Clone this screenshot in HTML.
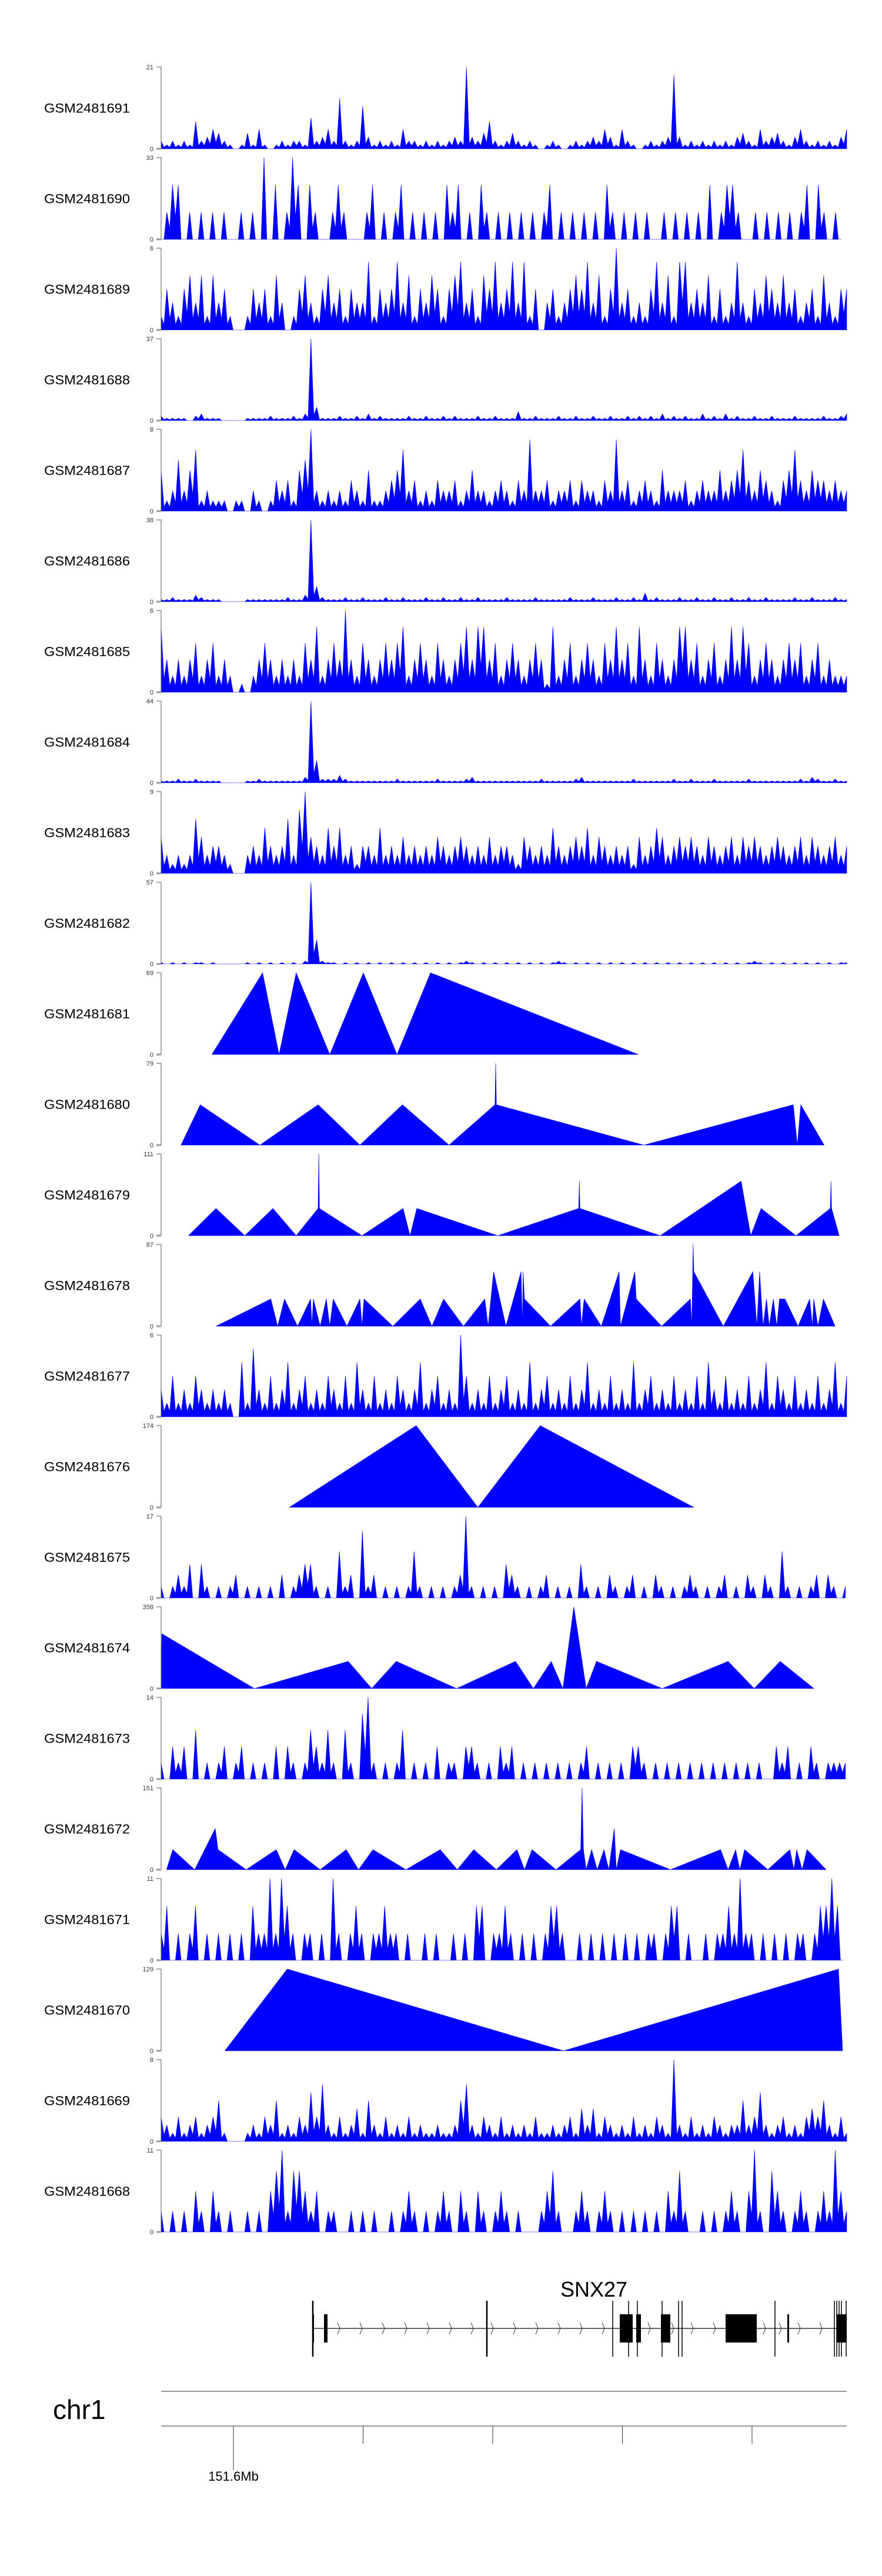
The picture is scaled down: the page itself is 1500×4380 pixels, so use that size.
<!DOCTYPE html>
<html><head><meta charset="utf-8">
<style>
html,body{margin:0;padding:0;background:#fff;}
svg{display:block;}
text{font-family:"Liberation Sans",Arial,sans-serif;}
</style></head>
<body>
<svg id="chart" width="1500" height="4380" viewBox="0 0 1500 4380" xmlns="http://www.w3.org/2000/svg"></svg>
<script>
const trackNames = ["GSM2481691","GSM2481690","GSM2481689","GSM2481688","GSM2481687","GSM2481686","GSM2481685","GSM2481684","GSM2481683","GSM2481682","GSM2481681","GSM2481680","GSM2481679","GSM2481678","GSM2481677","GSM2481676","GSM2481675","GSM2481674","GSM2481673","GSM2481672","GSM2481671","GSM2481670","GSM2481669","GSM2481668"];
const trackMax = [21,33,6,37,8,38,6,44,9,57,69,79,111,87,6,174,17,358,14,151,11,129,8,11];

const v691 = [2,1,2,1,2,1,7,2,3,5, 4,2,1,0,1,4,1,5,1,0, 1,2,1,2,2,1,8,2,3,5, 2,13,2,1,2,11,3,1,2,1, 2,1,5,2,2,1,2,1,2,1, 2,3,2,21,3,2,4,7,2,1, 2,4,2,1,2,1,0,1,2,1, 0,1,2,1,2,3,2,5,3,1, 5,2,1,0,1,2,1,2,3,19, 3,1,2,1,2,1,2,1,2,1, 3,4,2,1,5,2,3,4,2,1, 3,5,2,1,2,1,2,1,3,5];
const v690 = [0,11,22,22,0,11,0,11,0,11, 0,11,0,0,11,0,11,0,33,0, 22,0,11,33,22,0,22,11,0,0, 11,22,11,0,0,0,11,22,0,11, 0,11,22,0,11,0,11,0,11,0, 22,11,22,0,11,0,22,11,0,11, 0,11,0,11,0,11,0,11,22,0, 11,0,11,0,11,0,11,0,22,11, 0,11,0,11,0,11,0,0,11,0, 11,0,11,0,11,0,22,0,11,22, 22,11,0,0,11,0,11,0,11,0, 11,0,11,22,0,22,11,0,11,0];
const v689 = [1,3,2,1,3,4,2,4,1,4, 2,3,1,0,0,1,3,2,3,1, 4,2,0,1,3,4,2,1,3,4, 2,3,1,3,2,2,5,1,3,2, 3,5,2,4,1,3,2,4,3,1, 3,4,5,2,3,1,4,3,5,2, 3,5,2,5,1,3,0,2,3,1, 2,3,4,3,5,2,4,1,3,6, 2,3,1,2,1,3,5,2,4,1, 5,5,2,3,2,4,1,3,1,2, 5,2,1,3,2,4,3,2,4,2, 3,1,2,3,1,4,2,1,3,3];
const v688 = [2,1,1,1,1,0,2,3,1,1, 1,0,0,0,0,1,1,1,1,2, 1,1,1,2,1,3,37,6,1,1, 1,2,1,1,2,1,3,1,2,1, 1,1,1,2,1,1,2,1,1,2, 1,2,1,1,1,2,1,1,2,1, 1,1,4,1,1,2,1,1,1,2, 1,1,2,1,1,2,1,1,2,1, 1,2,1,2,1,2,1,3,1,2, 1,2,1,1,3,1,2,1,3,1, 2,1,1,2,1,1,2,1,1,1, 2,1,1,1,1,2,1,1,2,3];
const v687 = [4,1,2,5,2,4,6,1,2,1, 1,1,0,1,1,0,2,1,0,1, 3,2,3,1,4,5,8,2,1,2, 1,2,1,3,2,1,4,1,1,2, 3,4,6,2,3,1,2,1,3,2, 2,3,1,2,4,2,2,1,2,3, 2,1,3,2,7,2,2,3,1,2, 2,3,1,3,2,2,1,3,2,7, 2,3,1,2,3,2,1,4,2,2, 2,3,1,2,3,2,2,4,2,3, 4,6,3,2,4,3,2,1,3,4, 6,3,2,4,3,3,2,3,2,2];
const v686 = [1,1,2,1,1,1,3,2,1,1, 1,0,0,0,0,1,1,1,1,1, 1,1,2,1,1,3,38,7,2,1, 1,1,2,1,1,2,1,1,1,2, 1,1,2,1,1,1,2,1,1,2, 1,1,2,1,1,2,1,1,1,1, 2,1,1,1,1,2,1,1,1,1, 1,2,1,1,1,2,1,1,1,2, 1,1,2,1,4,1,2,1,1,1, 2,1,1,2,1,1,2,1,1,2, 1,1,2,1,1,2,1,1,1,1, 2,1,1,2,1,1,1,2,1,1];
const v685 = [4.8,2.4,1.2,2.4,1.2,2.4,3.6,1.2,2.4,3.6, 1.2,2.4,1.2,0,0.6,0,1.2,2.4,3.6,2.4, 1.2,2.4,1.2,2.4,1.2,3.6,2.4,4.8,1.2,2.4, 3.6,2.4,6,2.4,1.2,3.6,2.4,1.2,2.4,3.6, 2.4,3.6,4.8,1.2,2.4,3.6,2.4,1.2,3.6,2.4, 1.2,2.4,3.6,4.8,2.4,4.8,4.8,2.4,3.6,1.2, 2.4,3.6,2.4,1.2,2.4,3.6,2.4,0.6,4.8,1.2, 2.4,3.6,1.2,2.4,3.6,2.4,1.2,3.6,2.4,4.8, 2.4,3.6,1.2,4.8,2.4,1.2,3.6,2.4,1.2,2.4, 4.8,4.8,2.4,3.6,1.2,2.4,3.6,1.2,2.4,4.8, 2.4,4.8,3.6,1.2,2.4,3.6,2.4,1.2,2.4,3.6, 2.4,3.6,1.2,2.4,3.6,1.2,2.4,1.2,1.2,1.2];
const v684 = [1,1,1,2,1,1,2,1,1,1, 1,0,0,0,0,1,1,2,1,1, 1,1,1,1,1,3,44,12,2,2, 2,4,2,1,1,1,1,1,1,1, 1,2,1,1,1,1,1,1,2,1, 1,1,1,2,3,1,1,1,1,1, 1,1,1,1,1,1,2,1,1,1, 1,1,2,3,1,1,1,1,1,1, 1,1,2,1,1,1,1,1,1,2, 1,1,2,1,1,1,2,1,1,1, 1,1,2,1,1,1,1,1,1,1, 1,2,1,3,2,1,1,2,1,1];
const v683 = [4,2,1,2,1,2,6,4,2,3, 3,2,1,0,0,2,3,2,5,3, 2,3,6,2,7,9,4,3,2,5, 3,5,2,3,1,3,3,2,5,2, 3,2,4,2,3,2,3,2,4,3, 2,3,4,3,2,3,2,4,2,3, 3,2,1,4,3,2,3,2,5,3, 2,3,4,3,5,2,4,3,2,3, 2,3,1,4,2,3,5,4,2,3, 4,3,4,3,2,4,3,2,3,4, 2,4,3,4,3,2,3,4,3,2, 3,4,2,4,3,2,3,4,2,3];
const v682 = [1,0,1,0,1,0,1,1,0,1, 0,0,0,0,0,1,0,1,0,1, 0,1,0,1,0,2,57,17,2,1, 1,0,1,0,1,0,1,0,1,0, 1,0,1,0,1,0,1,0,1,0, 1,0,1,2,1,0,1,0,1,0, 1,0,1,0,1,0,1,0,1,2, 1,0,1,0,1,0,1,0,1,0, 1,0,1,0,1,0,1,0,1,0, 1,0,1,0,1,0,1,0,1,0, 1,0,1,2,1,0,1,0,1,0, 1,0,1,0,1,0,1,0,1,1];
const v677 = [2,1,3,1,2,1,3,2,1,2, 1,2,1,0,4,1,5,2,1,3, 1,2,4,1,2,3,1,2,1,3, 2,1,3,1,4,2,1,3,1,2, 1,3,2,1,2,4,1,2,3,1, 2,1,6,3,1,2,1,3,1,2, 3,1,2,1,4,1,2,3,1,2, 1,3,1,2,4,1,2,1,3,1, 2,1,4,1,2,3,1,2,1,3, 1,2,1,3,1,4,2,1,3,1, 2,1,3,1,2,4,1,3,2,1, 3,1,2,1,3,1,2,4,1,3];
const v675 = [2.4,0,2.4,4.8,2.4,7,0,7,2.4,0, 2.4,0,2.4,4.8,0,2.4,0,2.4,0,2.4, 0,4.8,0,2.4,4.8,7,7,2.4,0,2.4, 0,9.7,2.4,4.8,0,14,2.4,4.8,0,2.4, 0,2.4,0,2.4,9.7,2.4,0,2.4,0,2.4, 0,2.4,4.8,17,2.4,0,2.4,0,2.4,0, 7,4.8,2.4,0,2.4,0,2.4,4.8,0,2.4, 0,2.4,0,7,2.4,0,2.4,0,4.8,2.4, 0,2.4,4.8,0,2.4,0,4.8,2.4,0,2.4, 0,2.4,4.8,2.4,0,2.4,0,2.4,4.8,0, 2.4,0,4.8,2.4,0,4.8,2.4,0,9.7,2.4, 0,2.4,0,2.4,4.8,0,4.8,2.4,0,2.4];
const v673 = [2.8,0,5.6,2.8,5.6,0,8.4,0,2.8,0, 2.8,5.6,0,2.8,5.6,0,2.8,0,2.8,0, 5.6,0,5.6,2.8,0,2.8,8.4,5.6,2.8,8.4, 2.8,0,8.4,2.8,0,11.2,14,2.8,0,2.8, 0,2.8,8.4,0,2.8,0,2.8,0,5.6,0, 2.8,2.8,0,5.6,5.6,2.8,0,2.8,0,5.6, 2.8,5.6,0,2.8,0,2.8,0,2.8,0,2.8, 0,2.8,0,2.8,5.6,0,2.8,0,2.8,0, 2.8,0,5.6,5.6,2.8,0,2.8,0,2.8,0, 2.8,0,2.8,0,2.8,0,2.8,0,2.8,0, 2.8,0,2.8,0,2.8,0,0,5.6,2.8,5.6, 0,2.8,0,5.6,2.8,0,2.8,2.8,2.8,2.8];
const v671 = [3.6,7.3,0,3.6,0,3.6,7.3,0,3.6,0, 3.6,0,3.6,0,3.6,0,7.3,3.6,3.6,11, 3.6,11,7.3,3.6,0,3.6,3.6,0,3.6,0, 11,3.6,0,3.6,7.3,3.6,0,3.6,3.6,7.3, 3.6,3.6,0,3.6,0,0,3.6,0,3.6,0, 0,3.6,0,3.6,0,7.3,7.3,0,3.6,3.6, 7.3,3.6,0,3.6,0,3.6,0,3.6,7.3,7.3, 3.6,0,0,3.6,0,3.6,0,3.6,0,3.6, 0,3.6,0,3.6,0,3.6,3.6,0,3.6,7.3, 7.3,0,3.6,0,0,3.6,0,3.6,3.6,7.3, 3.6,11,3.6,3.6,0,3.6,0,3.6,0,3.6, 0,3.6,3.6,0,3.6,7.3,7.3,11,7.3,0];
const v669 = [2.4,1.6,0.8,2.4,0.8,1.6,2.4,0.8,1.6,2.4, 4,0.8,0,0,0,0.8,1.6,0.8,2.4,1.6, 4,0.8,1.6,0.8,2.4,1.6,4.8,2.4,5.6,1.6, 0.8,2.4,0.8,1.6,3.2,0.8,4,1.6,0.8,2.4, 0.8,1.6,0.8,2.4,0.8,1.6,0.8,0.8,1.6,0.8, 0.8,1.6,4,5.6,1.6,0.8,2.4,1.6,0.8,2.4, 0.8,1.6,0.8,1.6,0.8,2.4,0.8,0.8,1.6,0.8, 1.6,2.4,0.8,3.2,1.6,3.2,0.8,2.4,1.6,0.8, 1.6,0.8,2.4,0.8,1.6,0.8,2.4,1.6,0.8,8, 1.6,0.8,2.4,0.8,1.6,0.8,2.4,1.6,0.8,1.6, 1.6,4,1.6,2.4,4.8,1.6,0.8,1.6,2.4,0.8, 1.6,0.8,2.4,3.2,2.4,4,1.6,0.8,2.4,0.8];
const v668 = [2.8,0,2.8,0,2.8,0,5.5,2.8,0,5.5, 2.8,0,2.8,0,0,2.8,0,2.8,0,5.5, 8.2,11,2.8,8.2,8.2,5.5,2.8,5.5,0,2.8, 2.8,0,0,2.8,0,2.8,0,2.8,0,0, 2.8,0,2.8,5.5,2.8,0,2.8,0,2.8,5.5, 2.8,0,5.5,2.8,0,5.5,2.8,0,2.8,5.5, 2.8,0,2.8,0,0,0,2.8,5.5,8.2,2.8, 0,0,2.8,5.5,2.8,0,2.8,5.5,2.8,0, 2.8,0,2.8,0,2.8,0,2.8,0,5.5,2.8, 8.2,2.8,0,0,2.8,0,2.8,0,2.8,5.5, 2.8,0,5.5,11,2.8,0,8.2,5.5,2.8,0, 2.8,5.5,2.8,0,2.8,5.5,2.8,11,5.5,2.8];

const p681 = [74,148,172,197,246,295,344,393,696];
const v681 = [0,69,0,69,0,69,0,69,0];
const p680 = [29,57,144,229,290,352,420,487,488,489,704,922,928,933,967];
const v680 = [0,39,0,39,0,39,0,39,79,39,0,39,0,39,0];
const p679 = [40,80,122,163,197,229,230,231,293,353,363,373,491,609,610,611,728,846,860,875,926,976,977,978,989];
const v679 = [0,37,0,37,0,37,111,37,0,37,0,37,0,37,74,37,0,74,0,37,0,37,74,37,0];
const p678 = [80,160,170,180,199,218,220,222,232,241,246,251,271,290,293,296,338,378,395,412,441,472,477,485,503,525,527,528,530,568,611,613,617,642,668,670,691,693,730,772,774,776,777,820,863,869,873,878,883,887,893,898,902,910,929,946,950,952,958,966,983];
const v678 = [0,29,0,29,0,29,0,29,0,29,0,29,0,29,0,29,0,29,0,29,0,29,0,58,0,58,0,58,29,0,29,0,29,0,58,0,58,29,0,29,0,87,58,0,58,0,58,0,29,0,29,0,29,29,0,29,0,29,0,29,0];
const p676 = [187,372,462,553,777];
const v676 = [0,174,0,174,0];
const p674 = [0,1,136,273,307,343,431,517,543,569,586,602,620,635,731,827,865,903,952];
const v674 = [0,240,0,119,0,119,0,119,0,119,0,358,0,119,0,119,0,119,0];
const p672 = [8,17,49,79,83,124,168,181,194,232,270,288,309,357,407,432,456,489,519,530,541,576,612,614,616,620,628,636,646,653,661,664,670,743,816,827,838,844,851,885,917,923,927,935,942,970];
const v672 = [0,37,0,76,37,0,37,0,37,0,37,0,37,0,37,0,37,0,37,0,37,0,37,151,37,0,37,0,37,0,76,0,37,0,37,0,37,0,37,0,37,0,37,0,37,0];
const p670 = [93,184,587,988,994];
const v670 = [0,129,0,129,0];

const axisTicksMb = [105.5,294.6,483.7,672.8,861.9];
const axisTickLabels = ["151.6Mb","","","",""];

const evenTracks = {0:[v691,0,1000],1:[v690,0,992],2:[v689,0,1000],3:[v688,0,1000],4:[v687,0,1000],5:[v686,0,1000],6:[v685,0,1000],7:[v684,0,1000],8:[v683,0,1000],9:[v682,0,1000],14:[v677,0,1000],16:[v675,0,998],18:[v673,0,998],20:[v671,0,995],22:[v669,0,1000],23:[v668,0,1000]};
const pointTracks = {10:[p681,v681],11:[p680,v680],12:[p679,v679],13:[p678,v678],15:[p676,v676],17:[p674,v674],19:[p672,v672],21:[p670,v670]};

const NS="http://www.w3.org/2000/svg";
const svg=document.getElementById('chart');
const X0=274,X1=1440,TOP0=114,PITCH=154,H=139;
function xS(d){return X0+d*(X1-X0)/1000;}
function yS(v,k){return TOP0+PITCH*k+H-v/trackMax[k]*H;}
function mk(tag,attrs,parent){const e=document.createElementNS(NS,tag);for(const a in attrs)e.setAttribute(a,attrs[a]);(parent||svg).appendChild(e);return e;}

for(let k=0;k<trackNames.length;k++){
  const g=mk('g',{});
  
  
  const top=TOP0+PITCH*k, base=top+H;
  const lab=mk('text',{x:148,y:top+H/2+8,'text-anchor':'middle','font-size':22,textLength:146,lengthAdjust:'spacingAndGlyphs',fill:'#000'},g);
  lab.textContent=trackNames[k];
  
  
  let pts=[];
  if(evenTracks[k]){
    const [vals,s,e]=evenTracks[k];
    const n=vals.length;
    for(let i=0;i<n;i++){
      const xd=s+i*(e-s)/(n-1);
      pts.push([xS(xd),yS(vals[i],k)]);
      if(i<n-1){
        const mid=xd+(e-s)/(n-1)/2;
        pts.push([xS(mid),yS(0.4*Math.min(vals[i],vals[i+1]),k)]);
      }
    }
  } else {
    const [pos,vals]=pointTracks[k];
    for(let i=0;i<pos.length;i++){pts.push([xS(pos[i]),yS(vals[i],k)]);}
  }
  let d='M'+pts[0][0].toFixed(1)+','+base;
  for(const p of pts)d+='L'+p[0].toFixed(1)+','+p[1].toFixed(1);
  d+='L'+pts[pts.length-1][0].toFixed(1)+','+base+'Z';
  const path=mk('path',{d:d,fill:'#0000ff',stroke:'#0000ff','stroke-width':0.6},g);
  
  
  const ax=mk('g',{},g);
  
  
  mk('line',{x1:X0,y1:top,x2:X0,y2:base,stroke:'#555','stroke-width':1},ax);
  mk('line',{x1:266,y1:top,x2:X0,y2:top,stroke:'#555','stroke-width':1},ax);
  mk('line',{x1:266,y1:base,x2:X0,y2:base,stroke:'#999','stroke-width':3},ax);
  const t1=mk('text',{x:261,y:top+4,'text-anchor':'end','font-size':11,fill:'#333'},ax);
  t1.textContent=trackMax[k];
  const t0=mk('text',{x:261,y:base+4,'text-anchor':'end','font-size':11,fill:'#333'},ax);
  t0.textContent='0';
}

const gene=mk('g',{});


const gl=mk('text',{x:1010,y:3905,'text-anchor':'middle','font-size':36,fill:'#000'},gene);
gl.textContent='SNX27';


mk('line',{x1:532,y1:3959,x2:1440,y2:3959,stroke:'#333','stroke-width':1.5},gene);
const exonTicks=[532,828,1042,1069,1084,1126,1154,1160,1318,1419,1423,1427,1431,1439];
for(const x of exonTicks)mk('line',{x1:x,y1:3912,x2:x,y2:4007,stroke:'#000','stroke-width':(x==532||x==828)?2.5:1.5},gene);
const exonBoxes=[[531,534],[551,557],[1054,1076],[1082,1090],[1124,1140],[1234,1287],[1339,1342],[1423,1440]];
for(const b of exonBoxes)mk('rect',{x:b[0],y:3935,width:b[1]-b[0],height:48,fill:'#000'},gene);
const chev=[578,616,654,692,730,768,805,839,877,915,953,990,1028,1106,1146,1179,1217,1302,1329,1361,1398];
for(const x of chev)mk('polyline',{points:(x-4)+',3949 '+x+',3959 '+(x-4)+',3969',fill:'none',stroke:'#333','stroke-width':1},gene);

const chr=mk('g',{});


const ct=mk('text',{x:90,y:4113,'font-size':46,fill:'#000'},chr);
ct.textContent='chr1';


mk('line',{x1:X0,y1:4066,x2:X1,y2:4066,stroke:'#999','stroke-width':2},chr);
mk('line',{x1:X0,y1:4125,x2:X1,y2:4125,stroke:'#999','stroke-width':2},chr);
for(let i=0;i<axisTicksMb.length;i++){
  const x=xS(axisTicksMb[i]);
  mk('line',{x1:x,y1:4125,x2:x,y2:i==0?4200:4155,stroke:'#333','stroke-width':1},chr);
  if(axisTickLabels[i]){
    const tl=mk('text',{x:x,y:4218,'text-anchor':'middle','font-size':22,fill:'#000'},chr);
    tl.textContent=axisTickLabels[i];
    
    
  }
}
</script>
</body></html>
